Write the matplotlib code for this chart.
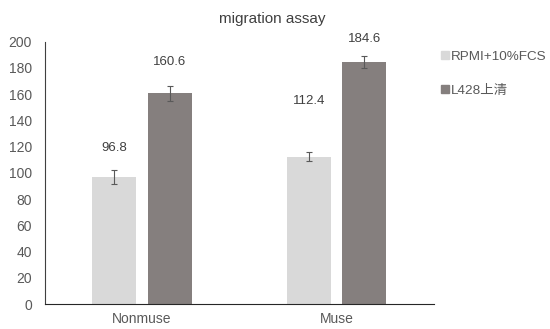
import numpy as np
import matplotlib.pyplot as plt
from matplotlib.patches import Patch

# data
groups = ['Nonmuse', 'Muse']
series = ['RPMI+10%FCS', 'L428上清']
rpmi_vals = [96.8, 112.4]
rpmi_err = [5.5, 3.4]
l428_vals = [160.6, 184.6]
l428_err = [6.0, 4.8]

# style
colors = ['#d9d9d9', '#857f7e']
text_color = '#595959'
label_offsets = [[29, 56], [31, 23]]  # px above bar top, per series/group
plt.rcParams['font.family'] = ['Liberation Sans', 'Noto Sans CJK SC', 'DejaVu Sans']

fig = plt.figure(figsize=(5.5, 3.29), dpi=100)
ax = fig.add_axes([44.5 / 550, 25 / 329, (434 - 44.5) / 550, (304 - 41.7) / 329])

x = np.arange(len(groups))
width = 0.226
shift = 0.143
for i, (vals, errs) in enumerate([(rpmi_vals, rpmi_err), (l428_vals, l428_err)]):
    pos = x + (i * 2 - 1) * shift
    ax.bar(pos, vals, width, color=colors[i], yerr=errs,
           error_kw=dict(ecolor='#595959', elinewidth=0.8, capsize=2, capthick=0.8))
    for j in range(len(groups)):
        ax.annotate(f'{vals[j]:.1f}', (pos[j], vals[j]), xytext=(0, label_offsets[i][j]),
                    textcoords='offset pixels', ha='center', va='center',
                    fontsize=9.5, color='#404040')

ax.set_xlim(-0.5, 1.5)
ax.set_ylim(0, 200)
ax.set_yticks(range(0, 201, 20))
ax.set_xticks(x)
ax.set_xticklabels(groups)
ax.tick_params(length=0, labelsize=10, colors=text_color)
ax.tick_params(axis='x', pad=6)
ax.tick_params(axis='y', pad=9)
for s in ['top', 'right']:
    ax.spines[s].set_visible(False)
ax.spines['left'].set_color('#404040')
ax.spines['bottom'].set_color('#262626')

fig.text(0.495, 1 - 19 / 329, 'migration assay', ha='center', va='center',
         fontsize=11, color='#404040')

handles = [Patch(color=c) for c in colors]
fig.legend(handles, series, loc='upper left', bbox_to_anchor=(429 / 550, 1 - 39 / 329),
           frameon=False, fontsize=9.7, labelcolor=text_color,
           handlelength=0.55, handleheight=0.55, handletextpad=0.2, labelspacing=1.6)

fig.savefig('out.png', dpi=100)
